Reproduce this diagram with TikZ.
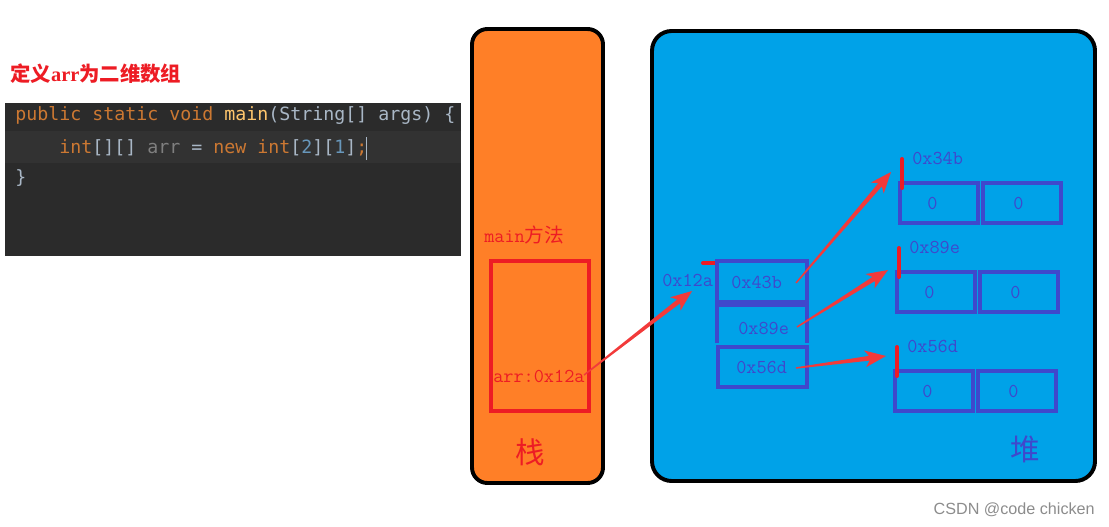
\documentclass[tikz,border=0pt]{standalone}
\usepackage{fontspec}
\newfontfamily\cjk{Noto Sans CJK SC}
\newfontfamily\codefont{DejaVu Sans Mono}
\newfontfamily\markfont{Liberation Sans}
\newfontfamily\titlefont{Liberation Serif}
\usetikzlibrary{calc}

\definecolor{stackorange}{HTML}{FF7F27}
\definecolor{heapblue}{HTML}{00A2E8}
\definecolor{boxblue}{HTML}{3F48CC}
\definecolor{framered}{HTML}{ED1C24}
\definecolor{arrowred}{HTML}{F23A3A}
\definecolor{codebg}{HTML}{2B2B2B}
\definecolor{codeline}{HTML}{323232}
\definecolor{kw}{HTML}{CC7832}
\definecolor{fn}{HTML}{FFC66D}
\definecolor{plain}{HTML}{A9B7C6}
\definecolor{num}{HTML}{6897BB}
\definecolor{unused}{HTML}{7F7F7F}

\tikzset{
  txt/.style={inner sep=0pt, anchor=west},
  addr/.style={txt, font=\ttfamily\fontsize{14}{14}\selectfont, text=boxblue},
  codetxt/.style={txt, font=\codefont\fontsize{13}{13}\selectfont, text=plain},
  cell/.style={draw=boxblue, line width=2.8pt},
  tick/.style={draw=framered, line width=2.8pt, line cap=round}
}

% tapered red arrow from #1 to #2
\newcommand\taperarrow[2]{%
  \path ($(#2)!12pt!(#1)$) coordinate (hb) ($(#2)!15pt!(#1)$) coordinate (hw);
  \fill[arrowred] ($(#1)!0.5pt!90:(#2)$) -- ($(hb)!1.7pt!90:(#2)$) -- ($(hw)!6pt!90:(#2)$) -- (#2)
    -- ($(hw)!6pt!-90:(#2)$) -- ($(hb)!1.7pt!-90:(#2)$) -- ($(#1)!0.5pt!-90:(#2)$) -- cycle;}

\begin{document}
\begin{tikzpicture}[x=0.025cm, y=-0.025cm]
    \useasboundingbox (0,0) rectangle (1109,526);

    % Title
    \node[txt, text=framered, font=\bfseries\fontsize{14.5}{14.5}\selectfont] (title) at (10,74)
        {{\cjk 定义}{\titlefont arr}{\cjk 为二维数组}};

    % Code panel
    \fill[codebg] (5,103) rectangle (461,256);
    \fill[codeline] (5,131) rectangle (461,163);
    \node[codetxt] (line1) at (15,115)
        {\textcolor{kw}{public static void} \textcolor{fn}{main}(String[] args) \{};
    \node[codetxt] (line2) at (59,148)
        {\textcolor{kw}{int}[][] \textcolor{unused}{arr} = \textcolor{kw}{new int}[\textcolor{num}{2}][\textcolor{num}{1}]\textcolor{kw}{;}};
    \node[codetxt] (line3) at (15,178) {\}};
    \draw[plain, line width=1pt] (line2.east) ++(-1,-11) -- ++(0,23);

    % Stack
    \draw[fill=stackorange, line width=2.8pt, rounded corners=11pt] (472,29) rectangle (603,483);
    \node[txt, text=framered, font=\ttfamily\fontsize{14}{14}\selectfont] (frame) at (484,235)
        {main{\cjk 方法}};
    \draw[framered, line width=2.8pt] (491,261) rectangle (589,411);
    \node[txt, text=framered, font=\ttfamily\fontsize{14}{14}\selectfont] (arrvar) at (493,376) {arr:0x12a};
    \node[text=framered, font=\cjk\fontsize{21}{21}\selectfont] (stack) at (530,452) {栈};

    % Heap
    \draw[fill=heapblue, line width=2.8pt, rounded corners=14pt] (652,31) rectangle (1095,481);
    \node[text=boxblue, font=\cjk\fontsize{21}{21}\selectfont] (heap) at (1025,449) {堆};

    % Outer array 0x12a
    \node[addr] (outer) at (662,280) {0x12a};
    \draw[tick] (703,263) -- (717,263);
    \draw[cell] (717,261) rectangle (807,302);
    \draw[cell] (717,343) -- (717,305) -- (807,305) -- (807,343);
    \draw[cell] (718,347) rectangle (807,387);
    \node[addr] (ref1) at (731,282) {0x43b};
    \node[addr] (ref2) at (738,328) {0x89e};
    \node[addr] (ref3) at (736,367) {0x56d};

    % Inner arrays: name/address/x/y/tip
    \foreach \n/\lab/\x/\y/\tx/\ty in {a/0x34b/900/183/891/172, b/0x89e/897/272/888/270, c/0x56d/895/371/886/356} {
        \draw[cell] (\x,\y) rectangle ({\x+78},{\y+40});
        \draw[cell] ({\x+83},\y) rectangle ({\x+161},{\y+40});
        \node[addr] (lab\n) at ({\x+12},{\y-25}) {\lab};
        \node[addr] at ({\x+27},{\y+20}) {0};
        \node[addr] at ({\x+113},{\y+20}) {0};
        \draw[tick] ({\x+2},{\y-24}) -- ({\x+2},{\y+5});
        \coordinate (tip\n) at (\tx,\ty);
    }

    % Reference arrows
    \coordinate (src0) at (584,375);
    \coordinate (tip0) at (692,291);
    \coordinate (src1) at (796,283);
    \coordinate (src2) at (797,327);
    \coordinate (src3) at (796,368);
    \taperarrow{src0}{tip0}
    \taperarrow{src1}{tipa}
    \taperarrow{src2}{tipb}
    \taperarrow{src3}{tipc}

    % Watermark
    \node[anchor=east, inner sep=0pt, text=black!45, font=\markfont\fontsize{11.5}{11.5}\selectfont] (mark) at (1095,510)
        {CSDN @code chicken};

\end{tikzpicture}
\end{document}
